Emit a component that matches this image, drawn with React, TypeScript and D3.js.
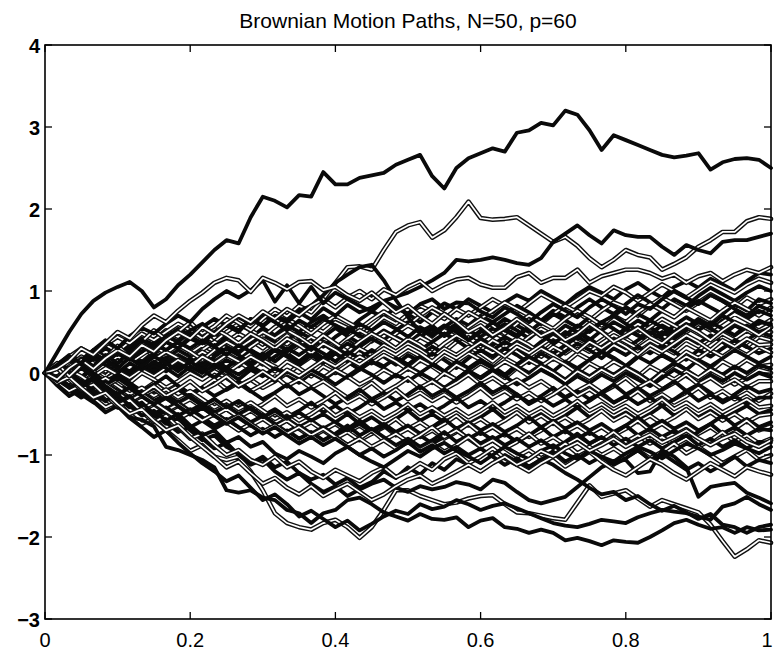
import React from 'react';
import * as d3 from 'd3';

const W = 774;
const H = 653;
const TITLE = 'Brownian Motion Paths, N=50, p=60';
const X_TICKS = [0, 0.2, 0.4, 0.6, 0.8, 1];
const X_TICK_LABELS = ['0', '0.2', '0.4', '0.6', '0.8', '1'];
const Y_TICKS = [-3, -2, -1, 0, 1, 2, 3, 4];
const Y_TICK_LABELS = ['\u22123', '\u22122', '\u22121', '0', '1', '2', '3', '4'];

// ---- upper outlying paths ----
const pTop = [0,0.25,0.5,0.72,0.88,0.98,1.05,1.11,1.0,0.8, 0.9,1.07,1.2,1.35,1.5,1.62,1.58,1.9,2.15,2.1, 2.02,2.17,2.15,2.45,2.3,2.3,2.38,2.41,2.44,2.54, 2.6,2.66,2.4,2.25,2.5,2.62,2.68,2.74,2.7,2.93, 2.96,3.05,3.02,3.2,3.15,2.96,2.72,2.9,2.84,2.78, 2.72,2.66,2.63,2.65,2.68,2.48,2.57,2.61,2.62,2.6, 2.5];
const pHigh2 = [0,0.12,-0.04,0.1,0.26,0.18,0.33,0.2,0.38,0.52, 0.41,0.5,0.62,0.48,0.57,0.7,0.61,0.52,0.66,0.78, 0.69,0.82,0.74,0.9,1.1,1.29,1.3,1.26,1.5,1.72, 1.8,1.84,1.65,1.74,1.9,2.09,1.89,1.87,1.88,1.9, 1.8,1.7,1.6,1.66,1.55,1.4,1.29,1.38,1.5,1.44, 1.41,1.26,1.33,1.41,1.54,1.62,1.72,1.72,1.85,1.9, 1.88];
const pHigh3 = [0,-0.1,0.05,0.18,0.08,0.22,0.12,0.26,0.4,0.31, 0.45,0.38,0.52,0.6,0.47,0.58,0.5,0.66,0.57,0.69, 0.62,0.74,0.65,0.79,0.7,0.83,0.74,0.8,0.88,0.93, 0.98,1.05,1.13,1.22,1.38,1.36,1.38,1.41,1.38,1.34, 1.32,1.4,1.6,1.7,1.8,1.68,1.58,1.74,1.68,1.66, 1.66,1.54,1.44,1.56,1.5,1.46,1.6,1.62,1.62,1.66, 1.7];
const pBump = [0,0.08,0.2,0.1,0.25,0.15,0.05,0.2,0.32,0.24, 0.38,0.3,0.45,0.36,0.5,0.6,0.52,0.66,0.58,0.7, 0.64,0.76,0.82,0.95,1.1,1.2,1.29,1.32,1.13,0.89, 0.68,0.5,0.58,0.45,0.55,0.4,0.5,0.62,0.52,0.44, 0.56,0.48,0.36,0.46,0.58,0.5,0.62,0.7,0.6,0.52, 0.64,0.56,0.45,0.55,0.66,0.58,0.7,0.62,0.54,0.64, 0.58];
const pBand1 = [0,-0.08,0.06,0.16,0.05,0.18,0.28,0.2,0.34,0.26, 0.4,0.5,0.42,0.56,0.47,0.6,0.7,0.62,0.75,0.66, 0.78,0.7,0.82,0.9,0.8,0.92,1.0,0.9,1.02,0.95, 1.05,1.12,1.0,1.08,1.14,1.16,1.08,1.04,1.04,1.17, 1.22,1.1,1.16,1.16,1.26,1.1,1.18,1.22,1.26,1.26, 1.22,1.15,1.2,1.1,1.18,1.22,1.12,1.2,1.26,1.22, 1.29];
const pZig = [0,0.1,0.2,0.12,0.28,0.4,0.3,0.45,0.55,0.48, 0.6,0.7,0.62,0.78,0.9,1.0,0.92,1.01,1.13,0.87, 1.07,0.85,1.05,0.85,0.98,0.9,0.82,0.75,0.88,0.8, 0.72,0.84,0.9,0.78,0.86,0.85,0.75,0.68,0.8,0.72, 0.62,0.74,0.84,0.76,0.68,0.8,0.9,0.82,0.72,0.84, 0.78,0.9,1.0,0.92,0.84,0.95,0.88,0.78,0.7,0.82, 0.76];
const pBand2 = [0,0.05,0.15,0.3,0.22,0.36,0.5,0.42,0.58,0.7, 0.62,0.76,0.88,0.98,1.1,1.16,1.13,0.99,1.16,1.1, 1.02,1.11,1.12,1.01,1.05,0.95,0.88,0.98,0.86,0.74, 0.82,0.7,0.6,0.72,0.62,0.5,0.58,0.46,0.55,0.66, 0.56,0.45,0.52,0.4,0.48,0.6,0.5,0.38,0.46,0.55, 0.44,0.36,0.48,0.58,0.5,0.4,0.52,0.62,0.55,0.46, 0.56];

// ---- lower outlying paths ----
const pLow1 = [0,-0.1,-0.22,-0.15,-0.3,-0.42,-0.35,-0.5,-0.62,-0.55, -0.7,-0.82,-0.95,-0.88,-1.02,-1.06,-1.02,-1.2,-1.43,-1.71, -1.83,-1.88,-1.91,-1.83,-1.79,-1.88,-2.01,-1.88,-1.67,-1.43, -1.43,-1.5,-1.55,-1.6,-1.58,-1.53,-1.5,-1.49,-1.6,-1.7, -1.71,-1.74,-1.77,-1.79,-1.58,-1.37,-1.51,-1.47,-1.43,-1.53, -1.63,-1.55,-1.6,-1.65,-1.7,-1.85,-2.05,-2.24,-2.15,-2.04, -2.07];
const pLow2 = [0,-0.12,-0.05,-0.2,-0.32,-0.25,-0.4,-0.54,-0.57,-0.65, -0.9,-0.94,-1.0,-1.06,-1.15,-1.43,-1.46,-1.43,-1.52,-1.55, -1.67,-1.71,-1.83,-1.71,-1.67,-1.55,-1.52,-1.6,-1.7,-1.75, -1.8,-1.72,-1.78,-1.79,-1.76,-1.88,-1.8,-1.77,-1.88,-1.9, -1.95,-1.91,-1.95,-2.04,-2.01,-2.05,-2.1,-2.04,-2.06,-2.07, -2.0,-1.92,-1.83,-1.79,-1.85,-1.9,-1.88,-1.95,-1.88,-1.92, -1.91];
const pLow3 = [0,0.08,-0.05,-0.15,-0.08,-0.22,-0.35,-0.28,-0.45,-0.52, -0.6,-0.72,-0.66,-0.8,-0.92,-0.85,-1.0,-1.12,-1.05,-1.2, -1.3,-1.22,-1.35,-1.45,-1.38,-1.5,-1.42,-1.35,-1.3,-1.4, -1.45,-1.38,-1.42,-1.39,-1.33,-1.36,-1.42,-1.3,-1.34,-1.45, -1.55,-1.59,-1.55,-1.51,-1.39,-1.27,-1.15,-1.08,-1.06,-1.22, -1.2,-0.94,-1.02,-1.15,-1.51,-1.39,-1.36,-1.34,-1.46,-1.52, -1.59];
const pLow4 = [0,-0.15,-0.28,-0.2,-0.35,-0.48,-0.4,-0.55,-0.66,-0.78, -0.7,-0.85,-0.98,-1.1,-1.2,-1.32,-1.25,-1.4,-1.55,-1.48, -1.6,-1.75,-1.68,-1.78,-1.88,-1.8,-1.92,-1.84,-1.75,-1.68, -1.72,-1.6,-1.66,-1.63,-1.55,-1.6,-1.67,-1.62,-1.59,-1.65, -1.71,-1.77,-1.83,-1.86,-1.88,-1.84,-1.79,-1.81,-1.83,-1.76, -1.71,-1.67,-1.69,-1.71,-1.75,-1.79,-1.63,-1.59,-1.51,-1.6, -1.67];
const pLow5 = [0,-0.1,0.02,-0.12,-0.25,-0.18,-0.3,-0.42,-0.36,-0.5, -0.62,-0.55,-0.7,-0.82,-0.76,-0.9,-0.98,-1.1,-1.02,-1.15, -1.08,-1.22,-1.3,-1.24,-1.36,-1.28,-1.4,-1.33,-1.2,-1.28, -1.15,-1.24,-1.1,-1.18,-1.05,-1.12,-1.2,-1.1,-1.0,-1.08, -1.15,-1.05,-1.12,-1.22,-1.3,-1.4,-1.48,-1.45,-1.55,-1.5, -1.6,-1.68,-1.62,-1.7,-1.78,-1.72,-1.85,-1.88,-1.95,-1.88, -1.85];
const pLow6 = [0,0.06,-0.08,-0.2,-0.14,-0.28,-0.4,-0.33,-0.47,-0.6, -0.52,-0.66,-0.8,-0.74,-0.88,-1.0,-0.94,-1.06,-1.12,-1.02, -1.15,-1.08,-1.2,-1.28,-1.18,-1.25,-1.32,-1.22,-1.15,-1.27, -1.2,-1.1,-1.18,-1.05,-0.98,-1.1,-1.02,-0.92,-1.04,-1.12, -1.2,-1.1,-1.02,-1.14,-1.05,-0.96,-1.08,-1.18,-1.25,-1.15, -1.05,-1.12,-1.22,-1.3,-1.2,-1.1,-1.18,-1.26,-1.15,-1.2, -1.24];
const pLow7 = [0,-0.08,-0.18,-0.1,-0.22,-0.34,-0.26,-0.4,-0.52,-0.46, -0.58,-0.5,-0.64,-0.76,-0.7,-0.85,-0.78,-0.9,-0.84,-0.98, -1.05,-0.95,-1.02,-1.1,-0.98,-0.9,-1.0,-1.08,-1.15,-1.05, -0.95,-1.02,-0.92,-0.85,-0.95,-1.02,-1.1,-1.0,-0.9,-0.98, -1.05,-0.95,-0.88,-0.98,-1.05,-0.95,-1.02,-1.08,-0.98,-0.9, -0.96,-1.04,-0.95,-0.86,-0.92,-1.0,-0.94,-0.86,-0.92,-0.98, -0.9];
const pLow8 = [0,-0.12,-0.05,-0.18,-0.3,-0.24,-0.38,-0.5,-0.44,-0.58, -0.7,-0.64,-0.78,-0.9,-1.02,-1.15,-1.08,-1.22,-1.35,-1.28, -1.4,-1.48,-1.38,-1.5,-1.42,-1.35,-1.45,-1.55,-1.48,-1.38, -1.3,-1.25,-1.35,-1.28,-1.2,-1.12,-1.2,-1.1,-1.02,-1.12, -1.05,-0.95,-1.02,-0.92,-0.85,-0.95,-0.88,-0.8,-0.9,-0.82, -0.75,-0.85,-0.78,-0.7,-0.8,-0.88,-0.8,-0.74,-0.84,-0.9, -0.82];

// ---- central bundle ----
const b01 = [0,0.1,0.22,0.15,0.05,0.18,0.3,0.2,0.12,0.25, 0.38,0.3,0.42,0.35,0.48,0.4,0.3,0.42,0.55,0.46, 0.58,0.5,0.62,0.7,0.6,0.52,0.65,0.75,0.68,0.8, 0.72,0.62,0.74,0.85,0.78,0.9,0.82,0.74,0.86,0.95, 0.88,1.0,0.92,0.84,0.96,1.05,0.98,0.9,1.02,1.1, 1.0,0.92,1.05,1.12,1.04,1.15,1.08,1.0,1.12,1.22, 1.2];
const b02 = [0,-0.05,0.08,0.2,0.12,0.02,0.15,0.26,0.18,0.3, 0.22,0.12,0.24,0.34,0.26,0.38,0.48,0.4,0.3,0.42, 0.35,0.46,0.58,0.5,0.62,0.55,0.45,0.56,0.68,0.6, 0.72,0.82,0.75,0.66,0.78,0.7,0.8,0.9,0.82,0.74, 0.85,0.96,0.88,0.8,0.9,1.0,0.94,1.05,0.98,0.88, 0.98,1.08,1.0,0.92,1.02,1.12,1.05,0.98,1.08,1.15, 1.1];
const b03 = [0,0.12,0.05,-0.05,0.08,0.2,0.1,0.02,0.14,0.06, 0.18,0.28,0.2,0.1,0.22,0.32,0.25,0.36,0.46,0.38, 0.28,0.4,0.32,0.44,0.55,0.45,0.36,0.48,0.4,0.52, 0.62,0.54,0.44,0.56,0.66,0.58,0.7,0.62,0.72,0.82, 0.74,0.64,0.76,0.68,0.8,0.9,0.8,0.72,0.84,0.95, 0.86,0.78,0.9,0.82,0.94,1.04,0.96,0.88,0.98,1.06, 1.0];
const b04 = [0,0.08,0.18,0.1,0.22,0.34,0.26,0.38,0.3,0.4, 0.52,0.44,0.56,0.48,0.38,0.5,0.6,0.52,0.44,0.56, 0.66,0.58,0.48,0.6,0.7,0.62,0.54,0.65,0.75,0.66, 0.58,0.7,0.8,0.72,0.62,0.74,0.66,0.76,0.86,0.78, 0.7,0.6,0.72,0.82,0.74,0.64,0.76,0.86,0.8,0.7, 0.82,0.92,0.84,0.76,0.86,0.96,0.88,0.8,0.92,0.84, 0.9];
const b05 = [0,-0.1,-0.02,0.1,0.02,-0.08,0.05,0.16,0.08,-0.02, 0.1,0.2,0.12,0.24,0.16,0.06,0.18,0.28,0.2,0.32, 0.24,0.14,0.26,0.36,0.28,0.4,0.3,0.42,0.52,0.44, 0.36,0.48,0.4,0.5,0.6,0.52,0.44,0.55,0.66,0.58, 0.5,0.62,0.72,0.64,0.56,0.68,0.6,0.7,0.8,0.72, 0.64,0.76,0.68,0.78,0.88,0.8,0.72,0.84,0.76,0.9, 0.85];
const b06 = [0,0.1,0.02,0.14,0.24,0.16,0.08,0.2,0.3,0.22, 0.12,0.24,0.16,0.28,0.38,0.3,0.2,0.32,0.42,0.34, 0.46,0.36,0.26,0.38,0.3,0.42,0.52,0.44,0.36,0.48, 0.58,0.5,0.4,0.52,0.44,0.56,0.66,0.58,0.48,0.6, 0.7,0.62,0.54,0.66,0.76,0.68,0.58,0.7,0.62,0.74, 0.84,0.76,0.68,0.8,0.72,0.64,0.76,0.86,0.78,0.7, 0.8];
const b07 = [0,0.08,0.16,0.06,0.18,0.1,0.2,0.32,0.24,0.36, 0.46,0.38,0.5,0.42,0.32,0.44,0.36,0.46,0.38,0.28, 0.4,0.5,0.42,0.32,0.44,0.54,0.46,0.38,0.5,0.42, 0.32,0.44,0.54,0.46,0.56,0.48,0.38,0.5,0.6,0.52, 0.42,0.54,0.46,0.58,0.5,0.4,0.52,0.62,0.54,0.64, 0.56,0.46,0.58,0.68,0.6,0.52,0.64,0.74,0.66,0.76, 0.7];
const b08 = [0,-0.06,-0.16,-0.08,0.04,-0.04,0.08,0.18,0.1,0.22, 0.14,0.04,0.16,0.26,0.18,0.28,0.2,0.1,0.22,0.32, 0.24,0.34,0.44,0.36,0.26,0.38,0.28,0.4,0.5,0.42, 0.34,0.44,0.36,0.26,0.38,0.48,0.4,0.5,0.42,0.32, 0.44,0.54,0.46,0.36,0.48,0.58,0.5,0.42,0.54,0.46, 0.56,0.66,0.58,0.5,0.6,0.52,0.62,0.72,0.64,0.56, 0.65];
const b09 = [0,0.12,0.04,0.16,0.28,0.2,0.3,0.22,0.12,0.24, 0.16,0.06,0.18,0.08,0.2,0.3,0.22,0.12,0.24,0.14, 0.26,0.36,0.28,0.18,0.3,0.22,0.32,0.42,0.34,0.24, 0.36,0.28,0.38,0.48,0.4,0.3,0.42,0.34,0.44,0.36, 0.26,0.38,0.48,0.4,0.5,0.42,0.32,0.44,0.54,0.46, 0.38,0.5,0.42,0.52,0.62,0.54,0.46,0.58,0.5,0.62, 0.6];
const b10 = [0,0.06,-0.04,0.08,-0.02,0.1,0.2,0.12,0.22,0.32, 0.24,0.34,0.26,0.16,0.28,0.38,0.3,0.4,0.5,0.42, 0.52,0.44,0.34,0.46,0.36,0.26,0.38,0.48,0.4,0.3, 0.42,0.34,0.24,0.36,0.46,0.38,0.28,0.4,0.32,0.42, 0.34,0.24,0.36,0.46,0.38,0.3,0.4,0.5,0.42,0.32, 0.44,0.36,0.46,0.56,0.48,0.4,0.5,0.42,0.52,0.44, 0.5];
const b11 = [0,-0.08,0.04,-0.06,0.06,0.16,0.08,-0.02,0.1,0.02, 0.12,0.22,0.14,0.04,0.16,0.06,0.18,0.1,0.2,0.3, 0.22,0.12,0.24,0.16,0.26,0.36,0.28,0.18,0.3,0.2, 0.1,0.22,0.32,0.24,0.14,0.26,0.36,0.28,0.38,0.3, 0.2,0.32,0.24,0.34,0.44,0.36,0.26,0.38,0.3,0.4, 0.5,0.42,0.32,0.44,0.36,0.46,0.38,0.28,0.4,0.5, 0.45];
const b12 = [0,0.1,0.2,0.3,0.22,0.34,0.44,0.36,0.48,0.4, 0.5,0.6,0.52,0.42,0.54,0.46,0.36,0.48,0.4,0.3, 0.42,0.34,0.24,0.36,0.28,0.18,0.3,0.22,0.34,0.26, 0.36,0.28,0.18,0.3,0.22,0.32,0.24,0.14,0.26,0.36, 0.28,0.2,0.32,0.24,0.34,0.26,0.36,0.46,0.38,0.3, 0.4,0.32,0.24,0.36,0.28,0.38,0.48,0.4,0.32,0.44, 0.4];
const b13 = [0,-0.1,-0.2,-0.12,-0.22,-0.14,-0.04,-0.12,0.0,0.1, 0.02,0.12,0.04,-0.06,0.06,0.16,0.08,0.18,0.1,0.2, 0.3,0.22,0.32,0.24,0.14,0.26,0.18,0.28,0.2,0.1, 0.22,0.14,0.24,0.16,0.06,0.18,0.28,0.2,0.3,0.22, 0.12,0.24,0.16,0.26,0.36,0.28,0.18,0.3,0.22,0.32, 0.24,0.34,0.26,0.16,0.28,0.2,0.3,0.4,0.32,0.24, 0.3];
const b14 = [0,0.08,0.0,0.1,0.02,-0.08,0.04,0.14,0.06,0.16, 0.26,0.18,0.08,0.2,0.12,0.22,0.14,0.04,0.16,0.08, -0.02,0.1,0.2,0.12,0.02,0.14,0.06,0.16,0.26,0.18, 0.28,0.2,0.1,0.22,0.14,0.24,0.16,0.06,0.18,0.1, 0.2,0.3,0.22,0.12,0.24,0.16,0.26,0.18,0.08,0.2, 0.3,0.22,0.14,0.26,0.18,0.28,0.2,0.3,0.22,0.32, 0.25];
const b15 = [0,0.1,0.02,0.12,0.22,0.14,0.24,0.16,0.26,0.36, 0.28,0.38,0.3,0.4,0.32,0.22,0.34,0.26,0.16,0.28, 0.2,0.1,0.22,0.12,0.24,0.14,0.04,0.16,0.08,0.18, 0.1,0.2,0.12,0.02,0.14,0.06,0.16,0.08,-0.02,0.1, 0.2,0.12,0.02,0.14,0.06,0.16,0.26,0.18,0.08,0.2, 0.12,0.22,0.14,0.04,0.16,0.08,0.18,0.28,0.2,0.12, 0.2];
const b16 = [0,-0.08,0.02,-0.06,-0.16,-0.08,0.02,-0.06,0.04,-0.04, 0.06,0.16,0.08,-0.02,0.1,0.0,0.1,0.2,0.12,0.02, 0.14,0.06,-0.04,0.08,0.0,0.1,0.2,0.12,0.22,0.14, 0.04,0.16,0.08,-0.02,0.1,0.02,0.12,0.04,-0.06,0.06, 0.16,0.08,0.18,0.1,0.0,0.12,0.04,0.14,0.06,-0.04, 0.08,0.0,0.1,0.2,0.12,0.02,0.14,0.06,0.16,0.08, 0.1];
const b17 = [0,0.06,0.16,0.08,0.18,0.1,0.0,0.12,0.04,0.14, 0.06,-0.04,0.08,0.0,0.1,0.02,-0.08,0.04,-0.04,0.06, -0.02,-0.12,0.0,-0.08,0.02,-0.06,0.04,0.14,0.06,-0.04, 0.08,0.0,0.1,0.02,-0.08,0.04,0.14,0.06,-0.04,0.08, 0.0,0.1,0.02,-0.08,0.04,-0.04,0.06,-0.02,0.08,0.0, -0.1,0.02,0.12,0.04,-0.06,0.06,-0.02,0.08,0.0,0.1, 0.05];
const b18 = [0,-0.1,-0.02,-0.12,-0.04,0.06,-0.02,-0.12,0.0,-0.08, -0.18,-0.1,0.0,-0.08,0.02,-0.06,-0.16,-0.08,-0.18,-0.1, 0.0,-0.08,0.02,-0.06,0.04,-0.04,-0.14,-0.06,0.04,-0.04, 0.06,-0.02,-0.12,0.0,-0.08,0.02,-0.06,0.04,0.14,0.06, -0.04,0.08,0.0,-0.1,0.02,-0.06,0.04,-0.04,0.06,-0.02, -0.12,0.0,-0.08,0.02,-0.06,0.04,-0.04,-0.14,-0.06,0.04, 0.0];
const b19 = [0,0.1,0.2,0.12,0.24,0.16,0.26,0.18,0.08,0.2, 0.12,0.02,0.14,0.04,-0.06,0.06,-0.02,0.08,0.0,-0.1, 0.02,-0.06,0.04,-0.04,-0.14,-0.04,0.06,-0.02,-0.12,-0.02, -0.1,0.0,-0.08,-0.18,-0.08,0.02,-0.06,0.04,-0.04,-0.14, -0.06,0.04,-0.04,-0.14,-0.04,-0.12,-0.02,-0.1,0.0,-0.08, -0.16,-0.06,0.04,-0.04,-0.12,-0.02,-0.1,0.0,-0.08,0.0, -0.05];
const b20 = [0,-0.06,-0.16,-0.26,-0.18,-0.28,-0.2,-0.3,-0.22,-0.12, -0.24,-0.16,-0.26,-0.18,-0.08,-0.2,-0.12,-0.22,-0.14,-0.04, -0.16,-0.08,-0.18,-0.1,-0.2,-0.3,-0.22,-0.12,-0.24,-0.16, -0.06,-0.18,-0.1,-0.2,-0.12,-0.02,-0.14,-0.06,-0.16,-0.08, -0.18,-0.1,-0.2,-0.3,-0.22,-0.14,-0.24,-0.16,-0.06,-0.18, -0.1,-0.2,-0.12,-0.02,-0.14,-0.06,-0.16,-0.08,-0.18,-0.1, -0.1];
const b21 = [0,0.08,-0.02,0.1,0.0,-0.1,-0.02,-0.12,-0.22,-0.14, -0.04,-0.16,-0.26,-0.18,-0.28,-0.2,-0.1,-0.22,-0.32,-0.24, -0.14,-0.26,-0.18,-0.28,-0.38,-0.3,-0.2,-0.32,-0.24,-0.34, -0.26,-0.16,-0.28,-0.2,-0.3,-0.22,-0.12,-0.24,-0.16,-0.26, -0.36,-0.28,-0.18,-0.3,-0.22,-0.32,-0.24,-0.14,-0.26,-0.18, -0.28,-0.2,-0.1,-0.22,-0.14,-0.24,-0.34,-0.26,-0.16,-0.24, -0.2];
const b22 = [0,-0.12,-0.04,-0.14,-0.24,-0.34,-0.26,-0.36,-0.46,-0.38, -0.48,-0.4,-0.5,-0.42,-0.32,-0.44,-0.36,-0.46,-0.38,-0.28, -0.4,-0.32,-0.42,-0.34,-0.24,-0.36,-0.28,-0.38,-0.3,-0.2, -0.32,-0.24,-0.34,-0.26,-0.36,-0.28,-0.18,-0.3,-0.22,-0.32, -0.24,-0.34,-0.26,-0.16,-0.28,-0.2,-0.3,-0.4,-0.32,-0.22, -0.34,-0.26,-0.36,-0.28,-0.18,-0.3,-0.22,-0.32,-0.24,-0.34, -0.25];
const b23 = [0,0.1,0.0,-0.1,-0.2,-0.12,-0.22,-0.14,-0.24,-0.34, -0.26,-0.36,-0.28,-0.38,-0.48,-0.4,-0.5,-0.42,-0.52,-0.44, -0.54,-0.46,-0.36,-0.48,-0.4,-0.5,-0.42,-0.32,-0.44,-0.36, -0.46,-0.38,-0.48,-0.4,-0.3,-0.42,-0.34,-0.44,-0.36,-0.26, -0.38,-0.3,-0.4,-0.32,-0.42,-0.34,-0.24,-0.36,-0.28,-0.38, -0.3,-0.4,-0.32,-0.22,-0.34,-0.26,-0.36,-0.28,-0.38,-0.3, -0.3];
const b24 = [0,-0.06,0.04,-0.04,-0.14,-0.06,-0.16,-0.26,-0.18,-0.28, -0.2,-0.3,-0.22,-0.32,-0.42,-0.34,-0.44,-0.36,-0.46,-0.56, -0.48,-0.58,-0.5,-0.4,-0.52,-0.44,-0.54,-0.46,-0.56,-0.48, -0.38,-0.5,-0.42,-0.52,-0.44,-0.54,-0.46,-0.36,-0.48,-0.4, -0.5,-0.42,-0.52,-0.44,-0.34,-0.46,-0.38,-0.48,-0.4,-0.5, -0.42,-0.32,-0.44,-0.36,-0.46,-0.38,-0.48,-0.4,-0.32,-0.42, -0.4];
const b25 = [0,-0.1,-0.2,-0.3,-0.22,-0.32,-0.42,-0.34,-0.44,-0.54, -0.46,-0.56,-0.66,-0.58,-0.68,-0.6,-0.7,-0.62,-0.52,-0.64, -0.56,-0.66,-0.58,-0.68,-0.6,-0.5,-0.62,-0.54,-0.64,-0.56, -0.46,-0.58,-0.5,-0.6,-0.52,-0.62,-0.54,-0.44,-0.56,-0.48, -0.58,-0.5,-0.6,-0.52,-0.42,-0.54,-0.46,-0.56,-0.48,-0.58, -0.5,-0.4,-0.52,-0.44,-0.54,-0.46,-0.56,-0.48,-0.4,-0.5, -0.45];
const b26 = [0,0.06,-0.04,-0.14,-0.06,-0.16,-0.08,-0.18,-0.28,-0.2, -0.3,-0.4,-0.32,-0.42,-0.34,-0.44,-0.54,-0.46,-0.56,-0.48, -0.58,-0.68,-0.6,-0.7,-0.62,-0.72,-0.64,-0.74,-0.66,-0.56, -0.68,-0.6,-0.7,-0.62,-0.52,-0.64,-0.56,-0.66,-0.58,-0.48, -0.6,-0.52,-0.62,-0.54,-0.64,-0.56,-0.46,-0.58,-0.5,-0.6, -0.52,-0.62,-0.54,-0.44,-0.56,-0.48,-0.58,-0.5,-0.6,-0.52, -0.5];
const b27 = [0,-0.08,-0.18,-0.1,-0.2,-0.3,-0.22,-0.32,-0.24,-0.34, -0.44,-0.36,-0.46,-0.38,-0.48,-0.58,-0.5,-0.6,-0.52,-0.62, -0.72,-0.64,-0.74,-0.66,-0.76,-0.68,-0.58,-0.7,-0.62,-0.72, -0.64,-0.74,-0.66,-0.56,-0.68,-0.6,-0.7,-0.62,-0.72,-0.64, -0.54,-0.66,-0.58,-0.68,-0.6,-0.7,-0.62,-0.72,-0.64,-0.54, -0.66,-0.58,-0.68,-0.6,-0.7,-0.62,-0.52,-0.64,-0.56,-0.66, -0.6];
const b28 = [0,-0.12,-0.22,-0.14,-0.24,-0.16,-0.26,-0.36,-0.28,-0.38, -0.3,-0.4,-0.5,-0.42,-0.52,-0.44,-0.54,-0.64,-0.56,-0.66, -0.58,-0.68,-0.78,-0.7,-0.8,-0.72,-0.82,-0.74,-0.64,-0.76, -0.68,-0.78,-0.7,-0.8,-0.72,-0.62,-0.74,-0.66,-0.76,-0.68, -0.78,-0.7,-0.6,-0.72,-0.64,-0.74,-0.66,-0.76,-0.68,-0.58, -0.7,-0.62,-0.72,-0.64,-0.74,-0.66,-0.76,-0.68,-0.58,-0.7, -0.65];
const b29 = [0,0.06,-0.04,0.06,-0.04,-0.14,-0.06,-0.16,-0.26,-0.18, -0.28,-0.2,-0.3,-0.4,-0.32,-0.42,-0.34,-0.44,-0.54,-0.46, -0.56,-0.48,-0.58,-0.5,-0.6,-0.7,-0.62,-0.72,-0.64,-0.74, -0.84,-0.76,-0.86,-0.78,-0.68,-0.8,-0.72,-0.82,-0.74,-0.84, -0.76,-0.66,-0.78,-0.7,-0.8,-0.72,-0.82,-0.74,-0.64,-0.76, -0.68,-0.78,-0.7,-0.8,-0.72,-0.62,-0.74,-0.66,-0.76,-0.68, -0.7];
const b30 = [0,-0.1,-0.02,-0.12,-0.22,-0.14,-0.24,-0.34,-0.26,-0.36, -0.46,-0.38,-0.48,-0.58,-0.5,-0.6,-0.7,-0.62,-0.72,-0.64, -0.74,-0.84,-0.76,-0.86,-0.78,-0.88,-0.8,-0.7,-0.82,-0.74, -0.84,-0.76,-0.66,-0.78,-0.7,-0.8,-0.9,-0.82,-0.92,-0.84, -0.74,-0.86,-0.78,-0.88,-0.8,-0.9,-0.82,-0.72,-0.84,-0.76, -0.86,-0.78,-0.88,-0.8,-0.9,-0.82,-0.72,-0.84,-0.76,-0.86, -0.8];
const b31 = [0,-0.06,-0.16,-0.26,-0.36,-0.28,-0.38,-0.3,-0.4,-0.5, -0.42,-0.52,-0.44,-0.54,-0.64,-0.56,-0.66,-0.76,-0.68,-0.78, -0.7,-0.8,-0.72,-0.82,-0.74,-0.64,-0.76,-0.68,-0.78,-0.88, -0.8,-0.9,-0.82,-0.72,-0.84,-0.76,-0.86,-0.78,-0.88,-0.8, -0.9,-0.82,-0.92,-0.84,-0.74,-0.86,-0.78,-0.88,-0.8,-0.9, -0.82,-0.92,-0.84,-0.76,-0.88,-0.8,-0.9,-0.82,-0.92,-0.84, -0.85];
const b32 = [0,0.08,-0.02,0.1,0.2,0.3,0.22,0.32,0.42,0.34, 0.44,0.54,0.46,0.56,0.66,0.58,0.68,0.6,0.7,0.62, 0.52,0.64,0.56,0.66,0.58,0.48,0.6,0.52,0.62,0.54, 0.44,0.56,0.48,0.58,0.5,0.4,0.52,0.44,0.54,0.46, 0.56,0.48,0.38,0.5,0.42,0.52,0.62,0.54,0.44,0.56, 0.48,0.58,0.5,0.6,0.52,0.62,0.54,0.46,0.58,0.5, 0.55];
const b33 = [0,-0.1,-0.2,-0.12,-0.22,-0.32,-0.24,-0.34,-0.26,-0.16, -0.28,-0.2,-0.1,-0.22,-0.14,-0.04,-0.16,-0.08,0.02,-0.08, 0.04,-0.04,0.06,0.16,0.08,0.18,0.1,0.2,0.3,0.22, 0.32,0.24,0.14,0.26,0.18,0.28,0.38,0.3,0.2,0.32, 0.24,0.34,0.44,0.36,0.26,0.38,0.3,0.4,0.32,0.22, 0.34,0.26,0.36,0.46,0.38,0.28,0.4,0.32,0.42,0.34, 0.35];
const b34 = [0,-0.1,-0.2,-0.12,-0.22,-0.32,-0.42,-0.34,-0.44,-0.36, -0.46,-0.56,-0.48,-0.58,-0.5,-0.6,-0.52,-0.62,-0.72,-0.64, -0.74,-0.66,-0.76,-0.68,-0.78,-0.88,-0.8,-0.9,-0.82,-0.92, -0.84,-0.94,-0.86,-0.96,-0.88,-0.78,-0.9,-0.82,-0.92,-1.02, -0.94,-1.04,-0.96,-0.86,-0.98,-0.9,-1.0,-0.92,-1.02,-0.94, -1.04,-0.96,-0.86,-0.98,-0.9,-1.0,-1.1,-1.02,-0.94,-1.06, -1.0];
const b35 = [0,0.06,-0.04,-0.14,-0.06,-0.16,-0.26,-0.18,-0.28,-0.38, -0.3,-0.4,-0.5,-0.42,-0.52,-0.62,-0.54,-0.64,-0.74,-0.66, -0.76,-0.86,-0.78,-0.88,-0.8,-0.9,-1.0,-0.92,-1.02,-0.94, -0.84,-0.96,-0.88,-0.98,-0.9,-1.0,-0.92,-1.02,-1.12,-1.04, -1.14,-1.06,-0.96,-1.08,-1.0,-1.1,-1.02,-1.12,-1.04,-0.94, -1.06,-0.98,-1.08,-1.18,-1.1,-1.2,-1.12,-1.02,-1.14,-1.06, -1.1];

const SERIES = [
  b01, b02, b03, b04, b05, b06, b07, b08, b09, b10, b11, b12,
  b13, b14, b15, b16, b17, b18, b19, b20, b21, b22, b23, b24,
  b25, b26, b27, b28, b29, b30, b31, b32, b33, b34, b35,
  pLow1, pLow2, pLow3, pLow4, pLow5, pLow6, pLow7, pLow8,
  pTop, pHigh2, pHigh3, pBump, pBand1, pZig, pBand2,
];

// presentation: which series render as outlined (hollow) lines instead of solid dark ones
const HOLLOW = new Set([1, 3, 5, 7, 9, 11, 13, 15, 17, 19, 21, 23, 25, 27, 29, 32, 33, 35, 40, 42, 44, 47, 49]);

const M = { left: 45, right: 3, top: 45, bottom: 34 };

export default function App() {
  const x = d3.scaleLinear().domain([0, 1]).range([M.left, W - M.right]);
  const y = d3.scaleLinear().domain([-3, 4]).range([H - M.bottom, M.top]);

  const mk = (vals: number[]) =>
    d3
      .line<number>()
      .x((_, i) => x(i / (vals.length - 1)))
      .y((d) => y(d))(vals) as string;

  const x0 = x(0), x1 = x(1), yTop = y(4), yBot = y(-3);
  const TL = 7;

  return (
    <svg
      width={W}
      height={H}
      style={{ position: 'absolute', left: 0, top: 0, background: '#fff' }}
      fontFamily="'Liberation Sans', Arial, Helvetica, sans-serif"
    >
      <rect x={0} y={0} width={W} height={H} fill="#fff" />
      <g fill="none" strokeLinejoin="round" strokeLinecap="round">
        {SERIES.map((vals, k) => {
          const d = mk(vals);
          if (HOLLOW.has(k)) {
            return (
              <g key={k}>
                <path d={d} stroke="#111" strokeWidth={4.6} />
                <path d={d} stroke="#fff" strokeWidth={1.7} />
              </g>
            );
          }
          return <path key={k} d={d} stroke="#0a0a0a" strokeWidth={3.8} />;
        })}
      </g>

      {/* axes box */}
      <rect x={x0} y={yTop} width={x1 - x0} height={yBot - yTop} fill="none" stroke="#000" strokeWidth={1.6} />
      {X_TICKS.map((t) => (
        <g key={'xt' + t} stroke="#000" strokeWidth={1.3}>
          <line x1={x(t)} x2={x(t)} y1={yBot} y2={yBot - TL} />
          <line x1={x(t)} x2={x(t)} y1={yTop} y2={yTop + TL} />
        </g>
      ))}
      {Y_TICKS.map((t) => (
        <g key={'yt' + t} stroke="#000" strokeWidth={1.3}>
          <line x1={x0} x2={x0 + TL} y1={y(t)} y2={y(t)} />
          <line x1={x1} x2={x1 - TL} y1={y(t)} y2={y(t)} />
        </g>
      ))}
      {X_TICKS.map((t, i) => (
        <text
          key={'xl' + t}
          x={Math.min(x(t), W - 7)}
          y={yBot + 28}
          textAnchor="middle"
          fontSize={20}
          fill="#000"
        >
          {X_TICK_LABELS[i]}
        </text>
      ))}
      {Y_TICKS.map((t, i) => (
        <text key={'yl' + t} x={x0 - 5} y={y(t) + 8} textAnchor="end" fontSize={20} fontWeight="bold" fill="#000">
          {Y_TICK_LABELS[i]}
        </text>
      ))}
      <text x={(x0 + x1) / 2} y={28} textAnchor="middle" fontSize={21} fill="#000">
        {TITLE}
      </text>
    </svg>
  );
}
